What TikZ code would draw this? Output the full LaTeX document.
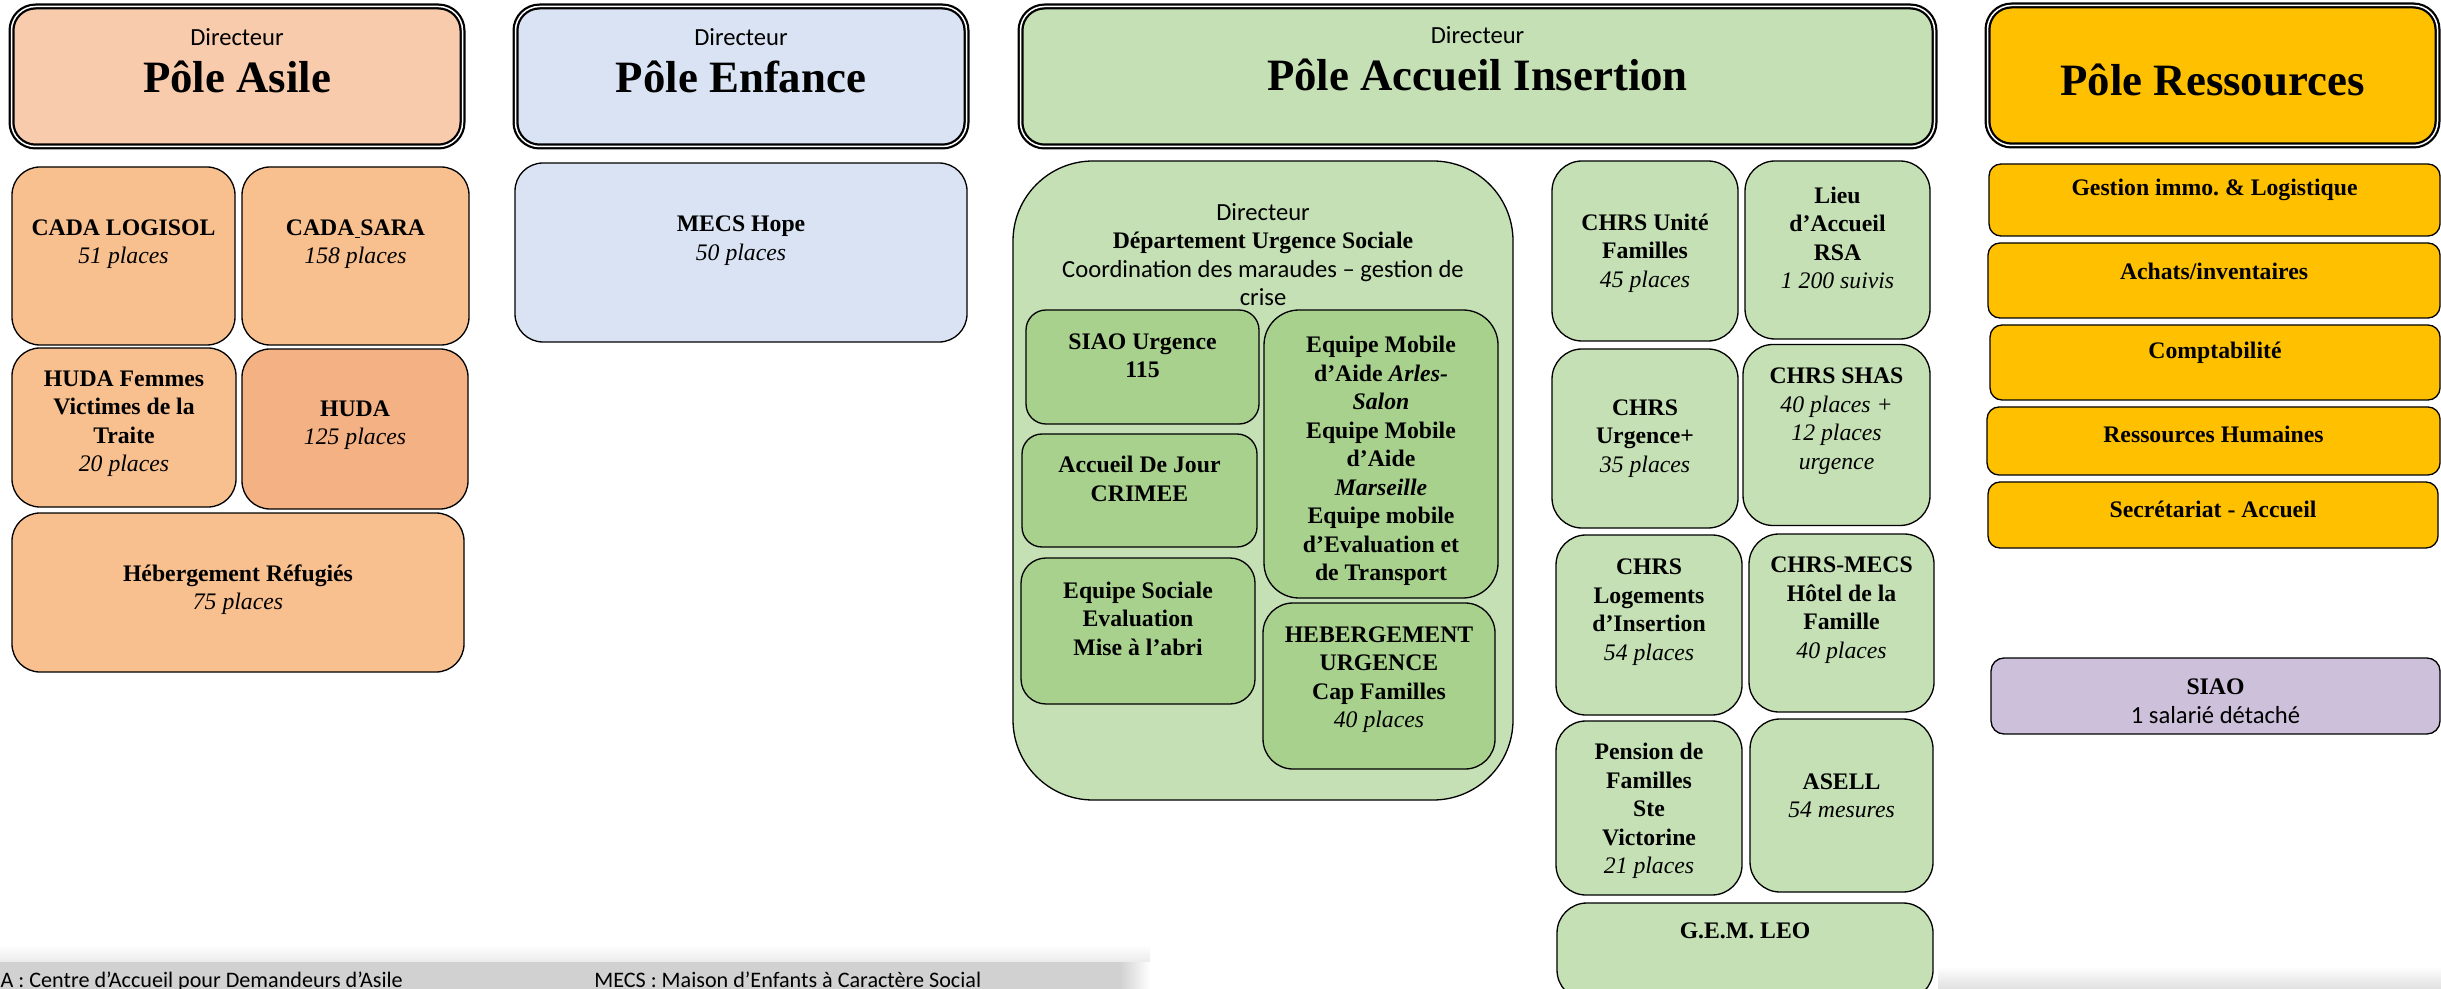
\documentclass[tikz,border=0pt]{standalone}
\usepackage{fontspec}
\setmainfont{Liberation Serif}
\newfontfamily\calib{Carlito}
\usepackage{tikz}
\usetikzlibrary{calc}
\definecolor{asileC}{HTML}{F8CBAD}
\definecolor{asileunitC}{HTML}{F8BF8F}
\definecolor{hudaC}{HTML}{F4B183}
\definecolor{enfanceC}{HTML}{DAE3F3}
\definecolor{insertionC}{HTML}{C5E0B4}
\definecolor{urgenceC}{HTML}{A9D18E}
\definecolor{ressourcesC}{HTML}{FFC000}
\definecolor{siaoC}{HTML}{CCC0DA}
\newcommand{\boxfont}{\fontsize{13.5pt}{16.2pt}\selectfont\bfseries}
\newcommand{\titlefont}{\fontsize{25.5pt}{26.6pt}\selectfont\bfseries}
\newcommand{\plainline}[1]{{\calib\mdseries\upshape\fontsize{14pt}{16.2pt}\selectfont #1}}
\newcommand{\placesline}[1]{{\mdseries\itshape #1}}
\tikzset{
	unit/.style={draw, line width=0.75pt, rounded corners=5.6mm},
	asileunit/.style={unit, fill=asileunitC},
	enfanceunit/.style={unit, fill=enfanceC},
	insertionunit/.style={unit, fill=insertionC, rounded corners=6mm},
	urgenceunit/.style={unit, fill=urgenceC, rounded corners=4mm},
	resunit/.style={unit, fill=ressourcesC, rounded corners=2.4mm},
	siaounit/.style={unit, fill=siaoC, rounded corners=2.6mm},
	pole/.style={draw, line width=0.45mm, double=white, double distance=0.3mm, rounded corners=4.8mm},
	boxtext/.style={align=center, font=\boxfont, inner sep=0pt},
	headtext/.style={align=center, font=\titlefont, inner sep=0pt},
	legend/.style={font=\calib\fontsize{12.6pt}{14pt}\selectfont, inner sep=0pt}
}
\newcommand{\orgunit}[7]{
	\node [#2, minimum width=#4*0.2mm, minimum height=#5*0.2mm] (#1) at (#3) {};
	\node [boxtext] (#1txt) at ($(#1.center)+(0,#6)$) {#7};}
\newcommand{\polehead}[6]{
	\node [pole, fill=#2, minimum width=#4*0.2mm, minimum height=140*0.2mm] (#1) at (#3) {};
	\node [headtext] (#1txt) at ($(#1.center)+(0,#5)$) {#6};}

\begin{document}
\begin{tikzpicture}[auto, x=0.2mm, y=-0.2mm]
	\useasboundingbox (0,0) rectangle (2441,989);
	\clip (0,0) rectangle (2441,989);
	\shade [top color=white, bottom color=black!8] (0,945) rectangle (1150,962);
	\fill [black!18] (0,962) rectangle (1120,989);
	\shade [left color=black!18, right color=white] (1120,962) rectangle (1150,989);
	\shade [top color=white, bottom color=black!12] (1938,966) rectangle (2441,989);
	\node [legend, anchor=base east] (cadaleg) at (403,987) {A : Centre d’Accueil pour Demandeurs d’Asile};
	\node [legend, anchor=base west] (mecsleg) at (594,987) {MECS : Maison d’Enfants à Caractère Social};

	\polehead{asile}{asileC}{237,76.5}{451}{-16}{\plainline{Directeur}\\ Pôle Asile}
	\polehead{enfance}{enfanceC}{741,76.5}{451}{-16}{\plainline{Directeur}\\ Pôle Enfance}
	\polehead{insertion}{insertionC}{1477.5,76.5}{914}{-18}{\plainline{Directeur}\\ Pôle Accueil Insertion}
	\polehead{ressources}{ressourcesC}{2212.5,75.5}{450}{4}{Pôle Ressources}

	\orgunit{logisol}{asileunit}{123.5,256}{223}{178}{-12}{CADA LOGISOL\\ \placesline{51 places}}
	\orgunit{sara}{asileunit}{355.5,256}{227}{178}{-12}{CADA\underline{~}SARA\\ \placesline{158 places}}
	\orgunit{hudafem}{asileunit}{124,427.5}{224}{159}{-4}{HUDA Femmes\\ Victimes de la\\ Traite\\ \placesline{20 places}}
	\orgunit{huda}{asileunit, fill=hudaC}{355,429}{226}{160}{-4}{HUDA\\ \placesline{125 places}}
	\orgunit{refugies}{asileunit}{238,592.5}{452}{159}{-3}{Hébergement Réfugiés\\ \placesline{75 places}}

	\orgunit{hope}{enfanceunit}{741,252.5}{452}{179}{-12}{MECS Hope\\ \placesline{50 places}}

	\orgunit{dus}{insertionunit, rounded corners=16mm}{1263,480.5}{500}{639}{-226}{\plainline{Directeur}\\ Département Urgence Sociale\\ \plainline{Coordination des maraudes – gestion de}\\ \plainline{crise}}
	\orgunit{siaourg}{urgenceunit}{1142.5,367}{233}{114}{-11.5}{SIAO Urgence\\ 115}
	\orgunit{crimee}{urgenceunit}{1139.5,490.5}{235}{113}{-11.5}{Accueil De Jour\\ CRIMEE}
	\orgunit{esoc}{urgenceunit, rounded corners=5mm}{1138,631}{234}{146}{-12.5}{Equipe Sociale\\ Evaluation\\ Mise à l’abri}
	\orgunit{emob}{urgenceunit, rounded corners=7mm}{1381,454}{234}{288}{7}{Equipe Mobile\\ d’Aide \textit{Arles-}\\ \textit{Salon}\\ Equipe Mobile\\ d’Aide\\ \textit{Marseille}\\ Equipe mobile\\ d’Evaluation et\\ de Transport}
	\orgunit{hebu}{urgenceunit, rounded corners=6mm}{1379,686}{232}{166}{-6.5}{HEBERGEMENT\\ URGENCE\\ Cap Familles\\ \placesline{40 places}}

	\orgunit{familles}{insertionunit}{1645,251}{186}{180}{2}{CHRS Unité\\ Familles\\ \placesline{45 places}}
	\orgunit{rsa}{insertionunit}{1837.5,250}{185}{178}{-12}{Lieu\\ d’Accueil\\ RSA\\ \placesline{1 200 suivis}}
	\orgunit{urgplus}{insertionunit}{1645,438.5}{186}{179}{0}{CHRS\\ Urgence+\\ \placesline{35 places}}
	\orgunit{shas}{insertionunit}{1836.5,435}{187}{181}{-14}{CHRS SHAS\\ \placesline{40 places +}\\ \placesline{12 places}\\ \placesline{urgence}}
	\orgunit{logements}{insertionunit}{1649,625}{186}{180}{-13}{CHRS\\ Logements\\ d’Insertion\\ \placesline{54 places}}
	\orgunit{hotel}{insertionunit}{1841.5,623}{185}{178}{-13}{CHRS-MECS\\ Hôtel de la\\ Famille\\ \placesline{40 places}}
	\orgunit{pension}{insertionunit}{1649,808}{186}{174}{3}{Pension de\\ Familles\\ Ste\\ Victorine\\ \placesline{21 places}}
	\orgunit{asell}{insertionunit}{1841.5,805.5}{183}{173}{-9.5}{ASELL\\ \placesline{54 mesures}}
	\orgunit{gem}{insertionunit}{1745,951.5}{376}{97}{-20.5}{G.E.M. LEO}

	\orgunit{gestion}{resunit}{2214.5,200}{451}{72}{-10}{Gestion immo.\ \& Logistique}
	\orgunit{achats}{resunit}{2214,280.5}{452}{75}{-9.5}{Achats/inventaires}
	\orgunit{compta}{resunit}{2215,362.5}{450}{75}{-9.5}{Comptabilité}
	\orgunit{rh}{resunit}{2213.5,441}{453}{68}{-7}{Ressources Humaines}
	\orgunit{secretariat}{resunit}{2213,515}{450}{66}{-6}{Secrétariat - Accueil}
	\orgunit{siao}{siaounit}{2215.5,696}{449}{76}{5}{SIAO\\ \plainline{1 salarié détaché}}
\end{tikzpicture}
\end{document}
